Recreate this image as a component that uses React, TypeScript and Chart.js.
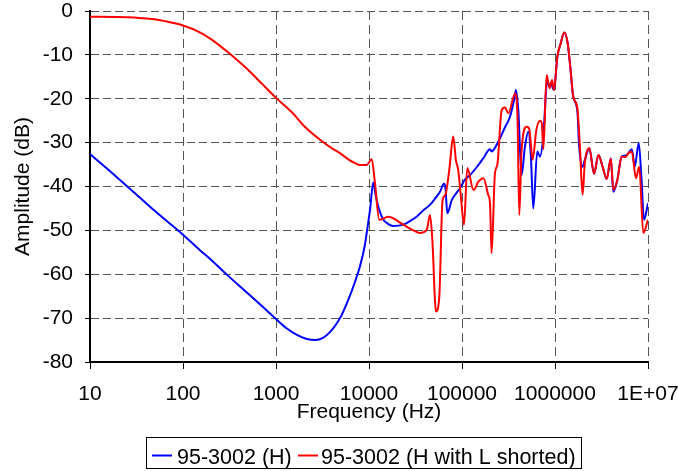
import React, { useEffect, useRef } from "react";
import { Chart, registerables } from "chart.js";

Chart.register(...registerables);

// ---- data ----
const blueFreq = [
  10, 15, 20, 30, 50, 70, 100, 150, 200, 300,
  500, 700, 1000, 1300, 1700, 2100, 2640, 3200, 3800, 4400,
  5000, 6000, 7000, 8000, 9000, 9440, 10300, 11100, 11800, 12600,
  14300, 16000, 18200, 23400, 28000, 32500, 38000, 45300, 52000, 58000,
  64000, 66500, 69500, 77600, 87000, 95000, 108000, 122000, 145000, 169000,
  200000, 208000, 245000, 290000, 328000, 365000, 380000, 403000, 437000, 475000,
  516000, 550000, 584000, 645000, 690000, 748000, 826000, 860000, 900000, 975000,
  1060000, 1150000, 1260000, 1370000, 1470000, 1570000, 1740000, 1820000, 1980000, 2090000,
  2340000, 2630000, 2930000, 3250000, 3600000, 3980000, 4240000, 4680000, 5200000, 5700000,
  6160000, 6700000, 7200000, 7950000, 8500000, 9060000, 10000000,
];
const blueDb = [
  -32.6, -35.8, -38.1, -41.4, -45.6, -48.2, -51, -54.4, -56.7, -60.2,
  -64.4, -67.2, -70.2, -72.3, -73.9, -74.7, -75, -74.5, -73.2, -71.5,
  -69.6, -65.8, -62, -58.2, -53.5, -50.6, -45, -39.1, -42, -44.6,
  -47.6, -48.5, -49, -48.7, -47.8, -46.9, -45.5, -44.2, -42.6, -41.2,
  -39.4, -40.5, -46.1, -43.1, -41.5, -40.4, -38.4, -37.4, -35.5, -33.6,
  -31.5, -32, -29.8, -26.5, -24.1, -20, -18, -22.6, -37.4, -30.9,
  -27.5, -33, -45, -32, -33.2, -28.6, -15.7, -17, -16.5, -18,
  -10.4, -7.4, -4.9, -7.4, -13.4, -19.5, -22.8, -30.9, -35.5, -34,
  -31.3, -37.1, -32.8, -35.5, -38.3, -33.6, -41.2, -38.5, -33.2, -33,
  -32.4, -31.5, -35.5, -30.1, -38, -47.6, -43.8,
];

const redFreq = [
  10, 20, 30, 50, 70, 100, 150, 200, 300, 500,
  700, 1000, 1500, 2000, 3000, 4000, 4880, 6000, 7000, 8000,
  9400, 10700, 11600, 12900, 16100, 23400, 30000, 35300, 41700, 45300,
  48000, 52500, 57000, 61800, 66000, 73000, 80500, 86000, 91000, 97000,
  105000, 114000, 133000, 150000, 170000, 192000, 200000, 208000, 226000, 240000,
  267000, 290000, 315000, 372000, 395000, 413000, 437000, 496000, 530000, 575000,
  630000, 690000, 720000, 750000, 813000, 875000, 930000, 975000, 1060000, 1150000,
  1260000, 1370000, 1470000, 1570000, 1740000, 1860000, 1980000, 2090000, 2340000, 2630000,
  2930000, 3250000, 3600000, 3980000, 4240000, 4680000, 5200000, 5700000, 6160000, 6700000,
  7430000, 8050000, 8900000, 10000000,
];
const redDb = [
  -1.3, -1.35, -1.5, -1.9, -2.5, -3.3, -4.8, -6.4, -9.3, -13.4,
  -16.5, -19.8, -23.2, -26.2, -29.4, -31.3, -32.4, -33.8, -34.6, -35.1,
  -35.1, -33.8, -39.3, -47.6, -46.9, -48.7, -50, -50.6, -49.9, -46.5,
  -52.2, -68.5, -65.1, -43.1, -42, -36.2, -28.6, -34, -36.2, -42,
  -48.7, -35.8, -40.8, -38.9, -38.1, -42, -43.8, -55.2, -37, -35,
  -22.6, -22, -23.3, -18.8, -24, -46.5, -31.7, -26.4, -27, -33.9,
  -27.1, -25, -25.5, -31.5, -14.6, -17.6, -15.7, -18, -10.4, -7.4,
  -4.9, -7.4, -13.4, -19.5, -22.2, -31.7, -41.9, -34.7, -31.3, -37.1,
  -32.8, -35.5, -38.3, -33.6, -40.8, -38.5, -33.2, -33.3, -32.4, -32,
  -38.1, -35.5, -50.6, -47.6,
];

const xTickValues = [10, 100, 1000, 10000, 100000, 1000000, 10000000];
const xTickLabels = ["10", "100", "1000", "10000", "100000", "1000000", "1E+07"];
const yTickValues = [0, -10, -20, -30, -40, -50, -60, -70, -80];
const seriesNames = ["95-3002 (H)", "95-3002 (H with L shorted)"];
const seriesColors = ["#0000ff", "#ff0000"];
const xTitle = "Frequency (Hz)";
const yTitle = "Amplitude (dB)";

// ---- layout ----
const W = 678;
const H = 471;
const FONT = "'Liberation Sans', Arial, Helvetica, sans-serif";

const legendPlugin = {
  id: "boxLegend",
  afterDraw(chart: any) {
    const ctx = chart.ctx;
    ctx.save();
    ctx.strokeStyle = "#000";
    ctx.lineWidth = 1;
    ctx.strokeRect(146.5, 437.5, 435, 31);
    ctx.font = `21.5px ${FONT}`;
    ctx.textBaseline = "alphabetic";
    ctx.textAlign = "left";
    const lineStarts = [152, 298];
    const textStarts = [177, 321];
    seriesNames.forEach((name, i) => {
      ctx.strokeStyle = seriesColors[i];
      ctx.lineWidth = 2;
      ctx.beginPath();
      ctx.moveTo(lineStarts[i], 455.5);
      ctx.lineTo(lineStarts[i] + 20, 455.5);
      ctx.stroke();
      ctx.fillStyle = "#000";
      ctx.fillText(name, textStarts[i], 464);
    });
    ctx.restore();
  },
};

export default function App() {
  const ref = useRef<HTMLCanvasElement | null>(null);

  useEffect(() => {
    if (!ref.current) return;
    const chart = new Chart(ref.current, {
      type: "line",
      data: {
        datasets: [
          {
            label: seriesNames[0],
            data: blueFreq.map((f, i) => ({ x: f, y: blueDb[i] })),
            borderColor: seriesColors[0],
            backgroundColor: seriesColors[0],
            borderWidth: 2,
            pointRadius: 0,
            cubicInterpolationMode: "monotone",
            fill: false,
            order: 2,
          },
          {
            label: seriesNames[1],
            data: redFreq.map((f, i) => ({ x: f, y: redDb[i] })),
            borderColor: seriesColors[1],
            backgroundColor: seriesColors[1],
            borderWidth: 2,
            pointRadius: 0,
            cubicInterpolationMode: "monotone",
            fill: false,
            order: 1,
          },
        ],
      },
      options: {
        animation: false,
        responsive: false,
        devicePixelRatio: 1,
        layout: { padding: { top: 11, right: W - 648, left: 0, bottom: H - 429 } },
        plugins: { legend: { display: false }, tooltip: { enabled: false } },
        scales: {
          x: {
            type: "logarithmic",
            min: 10,
            max: 10000000,
            afterBuildTicks: (s: any) => {
              s.ticks = xTickValues.map((v) => ({ value: v }));
            },
            afterFit: (s: any) => {
              s.height = 67;
              s.paddingLeft = 0;
              s.paddingRight = 0;
              s.paddingTop = 0;
              s.paddingBottom = 0;
            },
            ticks: {
              autoSkip: false,
              maxRotation: 0,
              minRotation: 0,
              padding: 13,
              color: "#000",
              font: { family: FONT, size: 21 },
              callback: (v: any) => {
                const idx = xTickValues.indexOf(Number(v));
                return idx >= 0 ? xTickLabels[idx] : "";
              },
            },
            grid: {
              color: "#555",
              lineWidth: 1,
              drawTicks: true,
              tickLength: 7,
              tickColor: "#000",
              tickWidth: 1,
              tickBorderDash: [],
            },
            border: { display: true, color: "#000", width: 2, dash: [9, 5] },
            title: {
              display: true,
              text: xTitle,
              color: "#000",
              font: { family: FONT, size: 21 },
              padding: { top: 4, bottom: 4 },
            },
          },
          y: {
            type: "linear",
            min: -80,
            max: 0,
            afterBuildTicks: (s: any) => {
              s.ticks = yTickValues.map((v) => ({ value: v }));
            },
            afterFit: (s: any) => {
              s.width = 90;
              s.paddingLeft = 0;
              s.paddingRight = 0;
              s.paddingTop = 0;
              s.paddingBottom = 0;
            },
            ticks: {
              padding: 12,
              color: "#000",
              font: { family: FONT, size: 21 },
            },
            grid: {
              color: "#555",
              lineWidth: 1,
              drawTicks: true,
              tickLength: 5,
              tickColor: "#000",
              tickWidth: 1,
              tickBorderDash: [],
            },
            border: { display: true, color: "#000", width: 2, dash: [8, 4] },
            title: {
              display: true,
              text: yTitle,
              color: "#000",
              font: { family: FONT, size: 21 },
              padding: { top: 10.5, bottom: 4 },
            },
          },
        },
      },
      plugins: [legendPlugin],
    } as any);
    return () => chart.destroy();
  }, []);

  return (
    <div style={{ position: "absolute", left: 0, top: 0, width: W, height: H, background: "#fff" }}>
      <canvas ref={ref} width={W} height={H} style={{ width: `${W}px`, height: `${H}px`, display: "block" }} />
    </div>
  );
}
